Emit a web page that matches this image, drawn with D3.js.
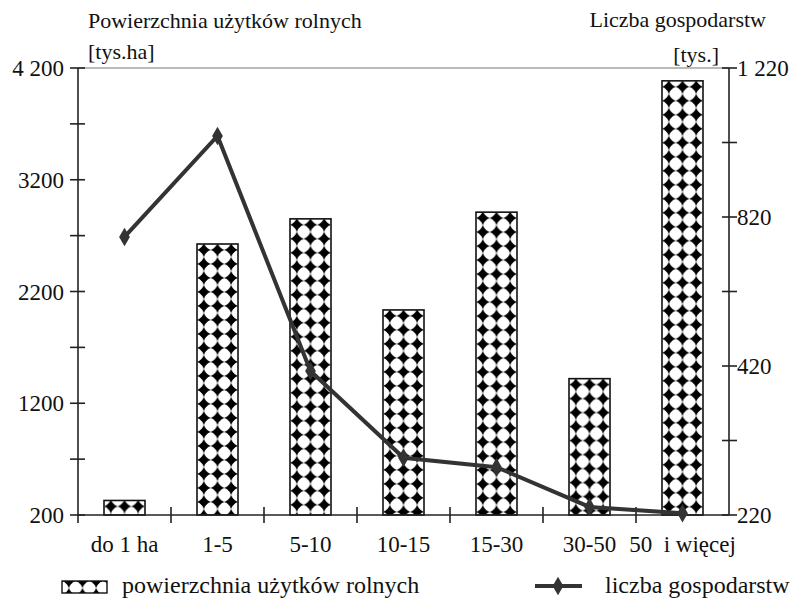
<!DOCTYPE html>
<html><head><meta charset="utf-8">
<script src="https://cdn.jsdelivr.net/npm/d3@7"></script>
<style>body{margin:0;background:#fff}svg text{font-family:'Liberation Serif','Times New Roman',Times,serif;fill:#111}</style>
</head><body>
<script>
const categories = ["do 1 ha","1-5","5-10","10-15","15-30","30-50","50\u00a0 i więcej"];
const areaValues = [330, 2625, 2850, 2035, 2910, 1420, 4085];
const farmValues = [842, 1068, 542, 348, 327, 238, 224];
const leftTicks = [200,700,1200,1700,2200,2700,3200,3700,4200];
const leftTickLabels = {200:"200",1200:"1200",2200:"2200",3200:"3200",4200:"4 200"};
const rightTickLabels = ["220","","420","","820","","1 220"];
const seriesNames = ["powierzchnia użytków rolnych","liczba gospodarstw"];

const W=797,H=600, x0=78, x1=729, y0=515, y1=68;
const svg=d3.select("body").append("svg").attr("width",W).attr("height",H)
  .attr("font-family","Liberation Serif, Times New Roman, serif");
const defs=svg.append("defs");

const x=d3.scaleBand().domain(categories).range([x0,x1]);
const yL=d3.scaleLinear().domain([200,4200]).range([y0,y1]);
const yR=d3.scaleLinear().domain([220,1220]).range([y0,y1]);
const rightTicks=d3.range(7).map(i=>220+i*1000/6);

// top border
svg.append("line").attr("x1",x0).attr("x2",x1).attr("y1",y1).attr("y2",y1).attr("stroke","#777").attr("stroke-width",1.2);

// patterns
const bw=41, cell=bw/3, ch=14;
function makePattern(id, px, py){
  const p=defs.append("pattern").attr("id",id).attr("patternUnits","userSpaceOnUse")
    .attr("x",px).attr("y",py).attr("width",cell).attr("height",ch);
  p.append("rect").attr("width",cell).attr("height",ch).attr("fill","#fff");
  const cx=cell/2, cy=ch/2, rx=cell/2+0.3, ry=ch/2+0.3, k=1.6;
  p.append("path").attr("d",
    `M${cx},${cy-ry}Q${cx+k},${cy-k} ${cx+rx},${cy}Q${cx+k},${cy+k} ${cx},${cy+ry}Q${cx-k},${cy+k} ${cx-rx},${cy}Q${cx-k},${cy-k} ${cx},${cy-ry}Z`)
    .attr("fill","#000");
  p.append("circle").attr("cx",cx).attr("cy",cy).attr("r",3.6).attr("fill","#000");
}
categories.forEach((c,i)=>makePattern("pat"+i, x(c)+(x.bandwidth()-bw)/2, yL(areaValues[i])-1));
makePattern("patLeg", 62, 574);

// bars
svg.selectAll(".bar").data(categories).enter().append("rect")
  .attr("x",c=>x(c)+(x.bandwidth()-bw)/2).attr("width",bw)
  .attr("y",(c,i)=>yL(areaValues[i])).attr("height",(c,i)=>y0-yL(areaValues[i]))
  .attr("fill",(c,i)=>`url(#pat${i})`).attr("stroke","#111").attr("stroke-width",1.6);

// axes
const ax=svg.append("g").attr("stroke","#222").attr("stroke-width",1.6);
ax.append("line").attr("x1",x0).attr("x2",x0).attr("y1",y1).attr("y2",y0);
ax.append("line").attr("x1",x1).attr("x2",x1).attr("y1",y1).attr("y2",y0);
ax.append("line").attr("x1",x0).attr("x2",x1).attr("y1",y0).attr("y2",y0);
leftTicks.forEach(t=>ax.append("line").attr("x1",x0-8).attr("x2",x0+7).attr("y1",yL(t)).attr("y2",yL(t)));
rightTicks.forEach(t=>ax.append("line").attr("x1",x1-7).attr("x2",x1+8).attr("y1",yR(t)).attr("y2",yR(t)));
categories.forEach((c,i)=>{ if(i>0) ax.append("line").attr("x1",x(c)).attr("x2",x(c)).attr("y1",y0-8).attr("y2",y0+8); });
ax.append("line").attr("x1",x0).attr("x2",x0).attr("y1",y0).attr("y2",y0+8);

svg.selectAll(".lt").data(leftTicks.filter(t=>leftTickLabels[t])).enter().append("text")
  .attr("x",x0-14).attr("y",t=>yL(t)+8).attr("text-anchor","end").attr("font-size",23)
  .text(t=>leftTickLabels[t]);
svg.selectAll(".rt").data(rightTicks).enter().append("text")
  .attr("x",x1+8).attr("y",t=>yR(t)+8).attr("font-size",23)
  .text((t,i)=>rightTickLabels[i]);
svg.selectAll(".ct").data(categories).enter().append("text")
  .attr("x",c=>x(c)+x.bandwidth()/2).attr("y",552).attr("text-anchor","middle").attr("font-size",23)
  .style("white-space","pre").text(c=>c);

// titles
svg.append("text").attr("x",88).attr("y",28).attr("font-size",22).text("Powierzchnia użytków rolnych");
svg.append("text").attr("x",88).attr("y",59).attr("font-size",22).text("[tys.ha]");
svg.append("text").attr("x",766).attr("y",27).attr("text-anchor","end").attr("font-size",22).text("Liczba gospodarstw");
svg.append("text").attr("x",719).attr("y",62).attr("text-anchor","end").attr("font-size",22).text("[tys.]");

// line
const line=d3.line().x((d,i)=>x(categories[i])+x.bandwidth()/2).y(d=>yR(d));
svg.append("path").datum(farmValues).attr("d",line).attr("fill","none").attr("stroke","#333").attr("stroke-width",4);
const sym=d3.symbol().type(d3.symbolDiamond).size(100);
svg.selectAll(".mk").data(farmValues).enter().append("path")
  .attr("transform",(d,i)=>`translate(${x(categories[i])+x.bandwidth()/2},${yR(d)})`)
  .attr("d",sym).attr("fill","#333");

// legend
svg.append("rect").attr("x",62).attr("y",581).attr("width",45).attr("height",12).attr("fill","url(#patLeg)").attr("stroke","#111").attr("stroke-width",1.4);
svg.append("text").attr("x",122).attr("y",593).attr("font-size",24).text(seriesNames[0]);
svg.append("line").attr("x1",535).attr("x2",582).attr("y1",586).attr("y2",586).attr("stroke","#333").attr("stroke-width",4);
svg.append("path").attr("transform","translate(558,586)").attr("d",sym).attr("fill","#333");
svg.append("text").attr("x",605).attr("y",593).attr("font-size",24).text(seriesNames[1]);
</script>
</body></html>
